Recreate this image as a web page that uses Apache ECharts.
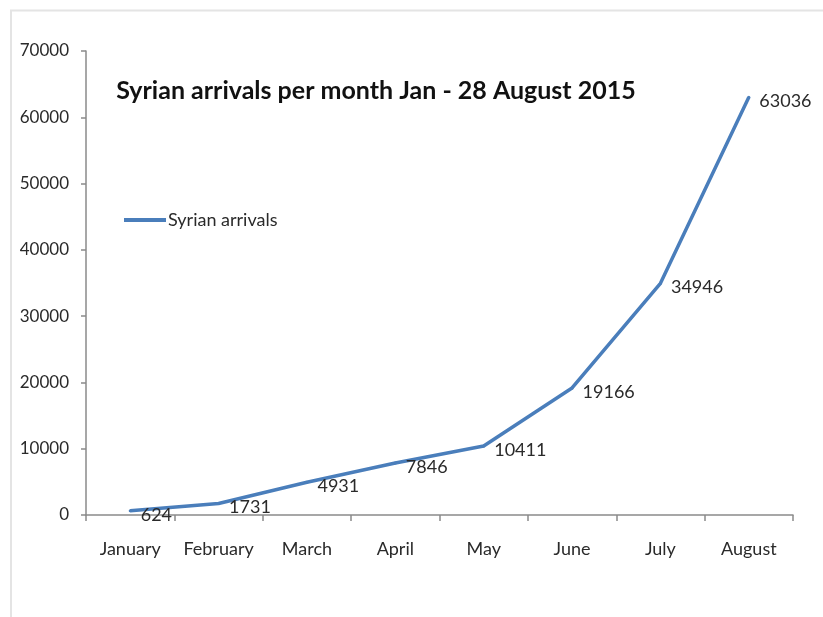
<!DOCTYPE html>
<html>
<head>
<meta charset="utf-8">
<script src="https://cdn.jsdelivr.net/npm/echarts@6/dist/echarts.min.js"></script>
<style>
html,body{margin:0;padding:0;background:#fff;}
#chart{width:823px;height:617px;}
</style>
</head>
<body>
<div id="chart"></div>
<script>
const months = ['January','February','March','April','May','June','July','August'];
const arrivals = [624, 1731, 4931, 7846, 10411, 19166, 34946, 63036];
const seriesName = 'Syrian arrivals';
const titleText = 'Syrian arrivals per month Jan - 28 August 2015';

const chart = echarts.init(document.getElementById('chart'));
const font = 'Lato';
chart.setOption({
  backgroundColor: '#ffffff',
  animation: false,
  graphic: [{
    type: 'polyline',
    shape: { points: [[11, 617], [11, 10.5], [823, 10.5]] },
    style: { stroke: '#e4e4e4', lineWidth: 2, fill: null }
  }],
  title: {
    text: titleText,
    left: 371, top: 73, textAlign: 'center',
    textStyle: { fontFamily: font, fontWeight: 'bold', fontSize: 25, color: '#111' }
  },
  legend: {
    data: [seriesName],
    left: 119, top: 206,
    itemWidth: 42, itemHeight: 4, itemGap: 4,
    icon: 'rect',
    textStyle: { fontFamily: font, fontSize: 18, color: '#2a2a2a', padding: [0,0,0,-3] }
  },
  grid: { left: 86, right: 30, top: 51, bottom: 102, containLabel: false },
  xAxis: {
    type: 'category',
    data: months,
    boundaryGap: true,
    axisLine: { lineStyle: { color: '#8a8a8a', width: 1.5 } },
    axisTick: { show: true, interval: 0, length: 6, lineStyle: { color: '#8a8a8a', width: 1.5 } },
    axisLabel: { interval: 0, fontFamily: font, fontSize: 18, color: '#2a2a2a', margin: 25 },
    splitLine: { show: false }
  },
  yAxis: {
    type: 'value',
    min: 0, max: 70000, interval: 10000,
    axisLine: { show: true, lineStyle: { color: '#8a8a8a', width: 1.5 } },
    axisTick: { show: true, length: 5, lineStyle: { color: '#8a8a8a', width: 1.5 } },
    axisLabel: { fontFamily: font, fontSize: 17, color: '#2a2a2a', margin: 17, formatter: v => String(v) },
    splitLine: { show: false }
  },
  series: [{
    name: seriesName,
    type: 'line',
    data: arrivals,
    symbol: 'circle',
    symbolSize: 3,
    itemStyle: { color: '#4a7ebb' },
    lineStyle: { color: '#4a7ebb', width: 3.5 },
    label: {
      show: true, position: 'right', distance: 9, offset: [0, 4],
      fontFamily: font, fontSize: 18, color: '#2a2a2a'
    }
  }]
});
</script>
</body>
</html>
